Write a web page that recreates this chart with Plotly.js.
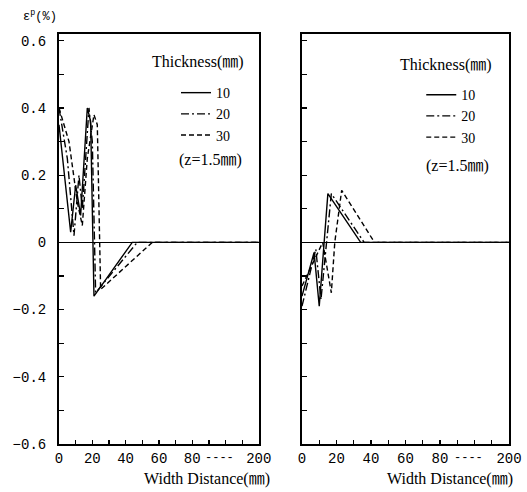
<!DOCTYPE html>
<html>
<head>
<meta charset="utf-8">
<script src="https://cdn.plot.ly/plotly-3.0.1.min.js"></script>
<style>html,body{margin:0;padding:0;background:#fff;}#chart{width:527px;height:492px;}</style>
</head>
<body>
<div id="chart"></div>
<script>
// ---- data (width distance in mm, plastic strain in %) ----
const thicknessNames = ['10', '20', '30'];

// Left panel
const leftX10 = [0, 3, 7, 10, 13, 17, 19, 21, 44, 200];
const leftY10 = [0.35, 0.22, 0.03, 0.17, 0.08, 0.40, 0.36, -0.16, 0, 0];
const leftX20 = [0, 5, 9, 12, 14, 18, 20, 22, 47, 200];
const leftY20 = [0.40, 0.25, 0.02, 0.20, 0.10, 0.40, 0.30, -0.15, 0, 0];
const leftX30 = [0, 6, 11, 14, 17, 21, 23, 25, 56, 200];
const leftY30 = [0.40, 0.30, 0.12, 0.05, 0.25, 0.38, 0.35, -0.14, 0, 0];

// Right panel
const rightX10 = [0, 7, 10, 13, 15, 34, 200];
const rightY10 = [-0.16, -0.03, -0.19, 0, 0.145, 0, 0];
const rightX20 = [0, 8, 11, 14, 17, 36, 200];
const rightY20 = [-0.19, -0.02, -0.17, -0.02, 0.145, 0, 0];
const rightX30 = [0, 12, 17, 19, 23, 42, 200];
const rightY30 = [-0.13, 0, -0.15, 0, 0.155, 0, 0];

// x-axis tick labels (broken axis: 80 ---- 200)
const xTickVals = [0, 20, 40, 60, 80, 200];
const xTickText = ['0', '20', '40', '60', '80', '200'];
const xBreakMid = 130;          // where the "----" break mark sits
const yTickVals = [-0.6, -0.4, -0.2, 0, 0.2, 0.4, 0.6];

// broken-axis transform: 0..80 linear, 80..200 compressed 3x
function brk(x) { return x <= 80 ? x : 80 + (x - 80) / 3; }
const mapX = arr => arr.map(brk);

const dashes = ['solid', '8px,3px,2px,3px', '5px,3px'];
const lineW = 1.4;

function tr(x, y, i, xa, ya, leg) {
  return {
    x: mapX(x), y: y, type: 'scatter', mode: 'lines',
    name: thicknessNames[i], xaxis: xa, yaxis: ya,
    legend: leg, showlegend: true,
    line: {color: '#000', width: lineW, dash: dashes[i]},
    hoverinfo: 'skip'
  };
}

const data = [
  tr(leftX10, leftY10, 0, 'x', 'y', 'legend'),
  tr(leftX20, leftY20, 1, 'x', 'y', 'legend'),
  tr(leftX30, leftY30, 2, 'x', 'y', 'legend'),
  tr(rightX10, rightY10, 0, 'x2', 'y2', 'legend2'),
  tr(rightX20, rightY20, 1, 'x2', 'y2', 'legend2'),
  tr(rightX30, rightY30, 2, 'x2', 'y2', 'legend2')
];

const monoFont = {family: 'Liberation Mono, DejaVu Sans Mono, monospace', size: 14, color: '#000'};
const serifFont = {family: 'Liberation Serif, "Noto Sans CJK JP", serif', size: 16, color: '#000'};
const legFont = {family: 'Liberation Serif, serif', size: 14, color: '#000'};

function xAxis(domain, anchor) {
  return {
    domain: domain, anchor: anchor, range: [0, 120],
    tickmode: 'array', tickvals: xTickVals.map(brk), ticktext: xTickText, tickangle: 0,
    ticks: 'inside', ticklen: 4, tickwidth: 1.3, tickcolor: '#000',
    minor: {dtick: 10, tick0: 0, ticks: 'inside', ticklen: 4, tickwidth: 1.3, tickcolor: '#000'},
    showgrid: false, zeroline: false,
    showline: true, linecolor: '#000', linewidth: 2, mirror: true,
    tickfont: monoFont, ticklabelstandoff: 0
  };
}
function yAxis(domain, anchor, labels) {
  return {
    domain: domain, anchor: anchor, range: [-0.6, 0.62],
    tickmode: 'array', tickvals: yTickVals, showticklabels: labels,
    ticks: 'inside', ticklen: 5, tickwidth: 1.3, tickcolor: '#000',
    minor: {dtick: 0.1, tick0: 0, ticks: 'inside', ticklen: 5, tickwidth: 1.3, tickcolor: '#000'},
    showgrid: false, zeroline: true, zerolinecolor: '#000', zerolinewidth: 1.3,
    showline: true, linecolor: '#000', linewidth: 2, mirror: true,
    tickfont: monoFont, ticklabelstandoff: 8
  };
}

const legendBase = {
  font: legFont, bgcolor: 'rgba(0,0,0,0)', borderwidth: 0,
  xref: 'paper', yref: 'paper', xanchor: 'left', yanchor: 'top',
  tracegroupgap: 0, itemclick: false
};

function note(text, xref, yref, x, y) {
  return {text: text, xref: xref, yref: yref, x: x, y: y,
          xanchor: 'center', yanchor: 'middle', showarrow: false, font: serifFont};
}
function breakMark(xref, yref) {
  return {text: '----', xref: xref, yref: yref, x: brk(xBreakMid), y: -0.034,
          xanchor: 'center', yanchor: 'middle', showarrow: false,
          font: {family: 'Liberation Mono, monospace', size: 12, color: '#000'}};
}

const layout = {
  width: 527, height: 492,
  margin: {l: 59, r: 18, t: 34, b: 48},
  paper_bgcolor: '#fff', plot_bgcolor: '#fff',
  showlegend: true,
  xaxis: xAxis([0, 0.444], 'y'),
  yaxis: yAxis([0, 1], 'x', true),
  xaxis2: xAxis([0.54, 1], 'y2'),
  yaxis2: yAxis([0, 1], 'x2', false),
  legend: Object.assign({}, legendBase, {x: 0.26, y: 0.895}),
  legend2: Object.assign({}, legendBase, {x: 0.805, y: 0.89}),
  annotations: [
    {text: 'ε<sup>p</sup>(%)', xref: 'paper', yref: 'paper', x: -0.085, y: 1.045,
     xanchor: 'left', yanchor: 'middle', showarrow: false,
     font: {family: 'Liberation Mono, monospace', size: 12, color: '#000'}},
    note('Thickness(㎜)', 'x domain', 'y domain', 0.695, 0.932),
    note('(z=1.5㎜)', 'x domain', 'y domain', 0.76, 0.693),
    note('Width Distance(㎜)', 'paper', 'paper', 0.329, -0.085),
    note('Thickness(㎜)', 'x2 domain', 'y2 domain', 0.696, 0.924),
    note('(z=1.5㎜)', 'x2 domain', 'y2 domain', 0.75, 0.678),
    note('Width Distance(㎜)', 'paper', 'paper', 0.869, -0.085),
    breakMark('x', 'y domain'),
    breakMark('x2', 'y2 domain')
  ]
};

Plotly.newPlot('chart', data, layout, {displayModeBar: false, staticPlot: true});
</script>
</body>
</html>
